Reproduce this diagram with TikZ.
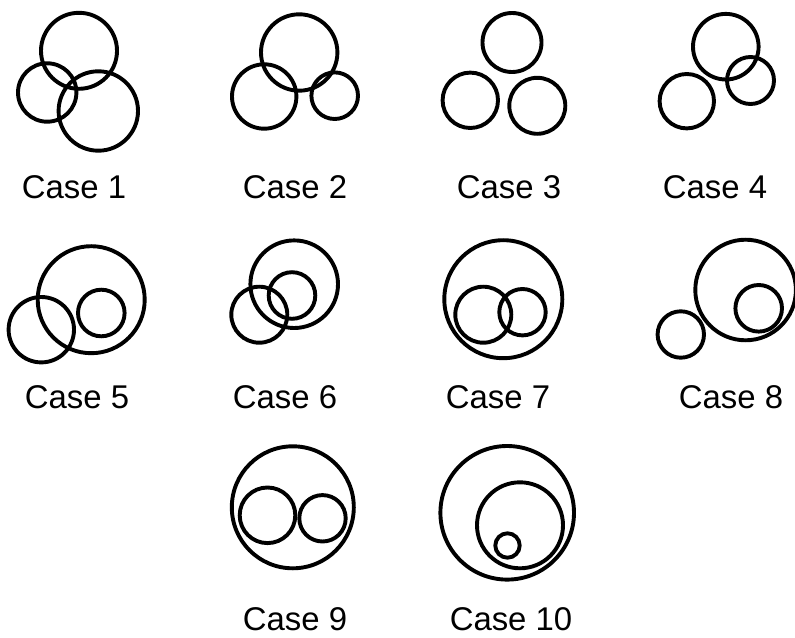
\documentclass[tikz,border=0pt]{standalone}
\usepackage{fontspec}
\setmainfont{Liberation Sans}
\begin{document}
\begin{tikzpicture}[x=1bp,y=-1bp,
  ring/.style={draw=black,line width=3.9bp},
  caselabel/.style={anchor=base,inner sep=0pt,font=\fontsize{33}{40}\selectfont}]
\useasboundingbox (0,0) rectangle (795,638);
% Case 1
\draw[ring] (79,50.8) circle[radius=38bp];
\draw[ring] (47.2,92.5) circle[radius=29.2bp];
\draw[ring] (98.3,111) circle[radius=39.7bp];
\node[caselabel] (c1) at (74,198.3) {Case 1};
% Case 2
\draw[ring] (299.2,52.5) circle[radius=38.2bp];
\draw[ring] (264.2,96.5) circle[radius=32.2bp];
\draw[ring] (334.7,95.7) circle[radius=23.3bp];
\node[caselabel] (c2) at (295,198.3) {Case 2};
% Case 3
\draw[ring] (512,42.5) circle[radius=29.5bp];
\draw[ring] (470.3,100.3) circle[radius=27.7bp];
\draw[ring] (537.3,105.8) circle[radius=28bp];
\node[caselabel] (c3) at (509,198.3) {Case 3};
% Case 4
\draw[ring] (725.8,46.7) circle[radius=32.8bp];
\draw[ring] (750.5,80.5) circle[radius=23.5bp];
\draw[ring] (686.8,101.2) circle[radius=27.2bp];
\node[caselabel] (c4) at (715,198.3) {Case 4};
% Case 5
\draw[ring] (91.2,299.7) circle[radius=53.5bp];
\draw[ring] (101.3,313) circle[radius=23.3bp];
\draw[ring] (41.3,329.7) circle[radius=32.7bp];
\node[caselabel] (c5) at (77,408.3) {Case 5};
% Case 6
\draw[ring] (294.2,284.2) circle[radius=43.8bp];
\draw[ring] (292,295.5) circle[radius=23.3bp];
\draw[ring] (259.3,314.7) circle[radius=28bp];
\node[caselabel] (c6) at (285,408.3) {Case 6};
% Case 7
\draw[ring] (503.3,299.2) circle[radius=59bp];
\draw[ring] (483.3,314.7) circle[radius=28bp];
\draw[ring] (522.5,312.2) circle[radius=23.2bp];
\node[caselabel] (c7) at (498,408.3) {Case 7};
% Case 8
\draw[ring] (745.6,290) circle[radius=50.3bp];
\draw[ring] (758.7,308.3) circle[radius=23.3bp];
\draw[ring] (680.8,334.5) circle[radius=23.2bp];
\node[caselabel] (c8) at (731,408.3) {Case 8};
% Case 9
\draw[ring] (292.8,507.3) circle[radius=61bp];
\draw[ring] (267.5,515.3) circle[radius=27.8bp];
\draw[ring] (322.5,518.3) circle[radius=23.2bp];
\node[caselabel] (c9) at (295,630) {Case 9};
% Case 10
\draw[ring] (507.2,512.8) circle[radius=66.8bp];
\draw[ring] (520,525.3) circle[radius=43bp];
\draw[ring] (507.5,545.5) circle[radius=12.2bp];
\node[caselabel] (c10) at (511,630) {Case 10};
\end{tikzpicture}
\end{document}
